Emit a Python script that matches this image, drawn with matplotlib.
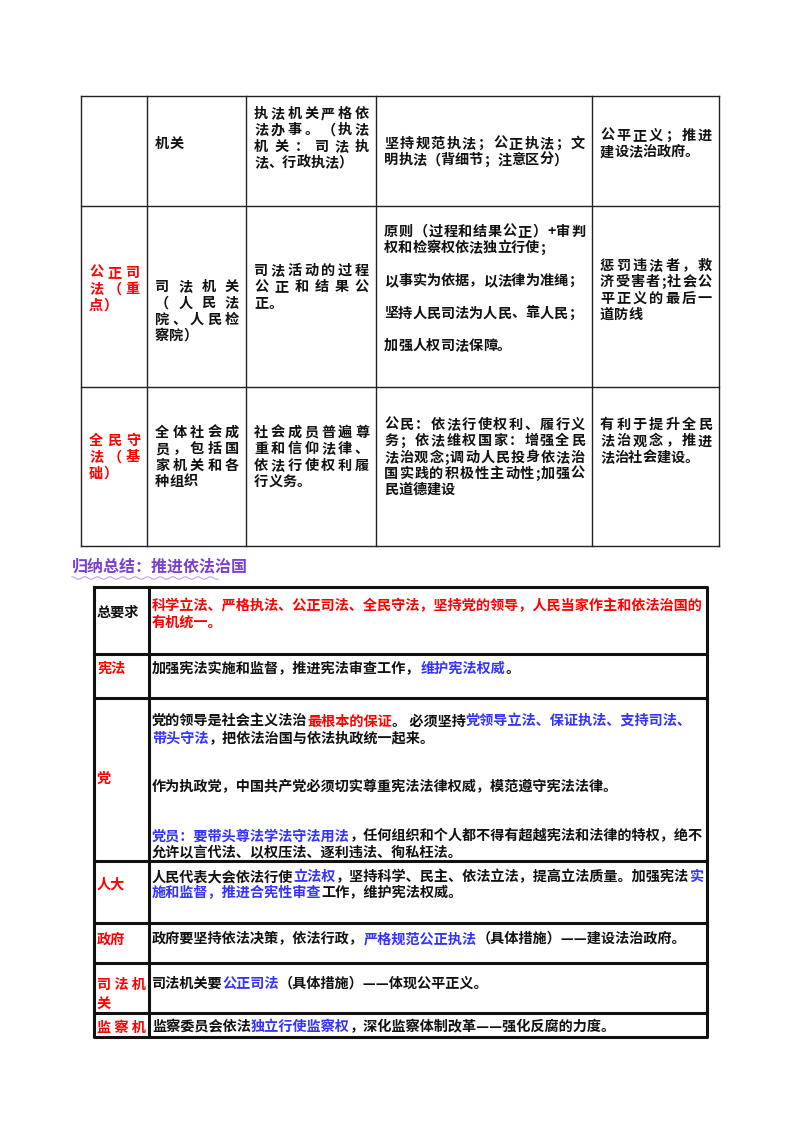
import numpy as np
import matplotlib.pyplot as plt

plt.rcParams['font.family'] = ['Noto Sans CJK SC', 'DejaVu Sans']

RED = '#ff0000'
BLUE = '#3333ff'
BLACK = '#111111'

# top table: rows of five cells, each cell a list of lines
top_rows = [
    ['', ['机关'],
     ['执法机关严格依', '法办事。（执法', '机关：司法执', '法、行政执法）'],
     ['坚持规范执法；公正执法；文', '明执法（背细节；注意区分）'],
     ['公平正义；推进', '建设法治政府。']],
    [['公正司', '法（重', '点）'],
     ['司法机关', '（人民法', '院、人民检', '察院）'],
     ['司法活动的过程', '公正和结果公', '正。'],
     ['原则（过程和结果公正）+审判', '权和检察权依法独立行使；', '', '以事实为依据，以法律为准绳；', '',
      '坚持人民司法为人民、靠人民；', '', '加强人权司法保障。'],
     ['惩罚违法者，救', '济受害者;社会公', '平正义的最后一', '道防线']],
    [['全民守', '法（基', '础）'],
     ['全体社会成', '员，包括国', '家机关和各', '种组织'],
     ['社会成员普遍尊', '重和信仰法律、', '依法行使权利履', '行义务。'],
     ['公民：依法行使权利、履行义', '务；依法维权国家：增强全民', '法治观念;调动人民投身依法治', '国实践的积极性主动性;加强公', '民道德建设'],
     ['有利于提升全民', '法治观念，推进', '法治社会建设。']],
]
top_x = [81, 147, 246, 376, 592, 719]
top_y = [96, 206, 387, 546]
# first-line y of each cell
top_first_y = [
    [0, 144, 114, 144, 136],
    [273, 287, 271, 232, 266],
    [441, 433, 433, 425, 425],
]

title = '归纳总结：推进依法治国'

# bottom table: heading, and lines made of (text, colour) segments
bottom_heads = ['总要求', '宪法', '党', '人大', '政府', '司 法 机\n关', '监 察 机']
bottom_body = [
    [[('科学立法、严格执法、公正司法、全民守法，坚持党的领导，人民当家作主和依法治国的', RED)],
     [('有机统一。', RED)]],
    [[('加强宪法实施和监督，推进宪法审查工作，', BLACK), ('维护宪法权威', BLUE), ('。', BLACK)]],
    [[('党的领导是社会主义法治', BLACK), ('最根本的保证', RED), ('。 必须坚持', BLACK),
      ('党领导立法、保证执法、支持司法、', BLUE)],
     [('带头守法', BLUE), ('，把依法治国与依法执政统一起来。', BLACK)],
     [],
     [],
     [('作为执政党，中国共产党必须切实尊重宪法法律权威，模范遵守宪法法律。', BLACK)],
     [],
     [],
     [('党员：要带头尊法学法守法用法', BLUE), ('，任何组织和个人都不得有超越宪法和法律的特权，绝不', BLACK)],
     [('允许以言代法、以权压法、逐利违法、徇私枉法。', BLACK)]],
    [[('人民代表大会依法行使', BLACK), ('立法权', BLUE), ('，坚持科学、民主、依法立法，提高立法质量。加强宪法', BLACK), ('实', BLUE)],
     [('施和监督，推进合宪性审查', BLUE), ('工作，维护宪法权威。', BLACK)]],
    [[('政府要坚持依法决策，依法行政，', BLACK), ('严格规范公正执法', BLUE), ('（具体措施）——建设法治政府。', BLACK)]],
    [[('司法机关要', BLACK), ('公正司法', BLUE), ('（具体措施）——体现公平正义。', BLACK)]],
    [[('监察委员会依法', BLACK), ('独立行使监察权', BLUE), ('，深化监察体制改革——强化反腐的力度。', BLACK)]],
]
bot_x = [94, 149, 707]
bot_y = [587, 654, 698, 861, 923, 963, 1013, 1037]

fig = plt.figure(figsize=(8, 11.32), dpi=100)
ax = fig.add_axes([0, 0, 1, 1])
ax.set_xlim(0, 800)
ax.set_ylim(1132, 0)
ax.axis('off')
renderer = fig.canvas.get_renderer()


def text_width(t, fs):
    tx = ax.text(0, 0, t, fontsize=fs, fontweight='bold')
    w = tx.get_window_extent(renderer).width
    tx.remove()
    return w  # axes spans the figure, so 1 px == 1 data unit


FS = 10.2
LH = 16.3

# top table grid
for x in top_x:
    ax.plot([x, x], [top_y[0], top_y[-1]], color='#222222', lw=1.0)
for y in top_y:
    ax.plot([top_x[0], top_x[-1]], [y, y], color='#222222', lw=1.0)

for r, row in enumerate(top_rows):
    for c, cell in enumerate(row):
        if not cell:
            continue
        col = RED if c == 0 else BLACK
        x0 = top_x[c] + 8
        avail = top_x[c + 1] - top_x[c] - 15
        y = top_first_y[r][c]
        for i, t in enumerate(cell):
            if t:
                last = i == len(cell) - 1 or cell[i + 1] == ''
                ws = [text_width(ch, FS) for ch in t]
                gap = 0
                if not last and len(t) > 1:
                    gap = max(0, (avail - sum(ws)) / (len(t) - 1))
                x = x0
                for ch, w in zip(t, ws):
                    ax.text(x, y, ch, fontsize=FS, color=col, fontweight='bold', va='center', ha='left')
                    x += w + gap
            y += LH

# section title with wavy underline
ax.text(72, 566, title, fontsize=11.5, color='#7b3fd0', fontweight='bold', va='center', ha='left')
wx = np.linspace(72, 218, 200)
ax.plot(wx, 578 + 1.2 * np.sin(wx / 2.0), color='#b9a3e8', lw=0.8)

# bottom table grid
ax.plot([bot_x[0], bot_x[-1], bot_x[-1], bot_x[0], bot_x[0]],
        [bot_y[0], bot_y[0], bot_y[-1], bot_y[-1], bot_y[0]], color='#111111', lw=2.2)
ax.plot([bot_x[1], bot_x[1]], [bot_y[0], bot_y[-1]], color='#111111', lw=2.2)
for y in bot_y[1:-1]:
    ax.plot([bot_x[0], bot_x[-1]], [y, y], color='#111111', lw=2.2)

head_y = [613, 669, 779, 884, 940, 994, 1028]
for i, h in enumerate(bottom_heads):
    col = BLACK if i == 0 else RED
    ax.text(bot_x[0] + 3, head_y[i], h, fontsize=FS, color=col, fontweight='bold',
            va='center', ha='left', linespacing=1.45)

body_y = [606, 669, 722, 877, 939, 984, 1027]
for i, lines in enumerate(bottom_body):
    for j, segs in enumerate(lines):
        x = 152
        for t, col in segs:
            ax.text(x, body_y[i] + j * LH, t, fontsize=FS, color=col, fontweight='bold',
                    va='center', ha='left')
            x += text_width(t, FS)

fig.savefig('out.png', dpi=100)
